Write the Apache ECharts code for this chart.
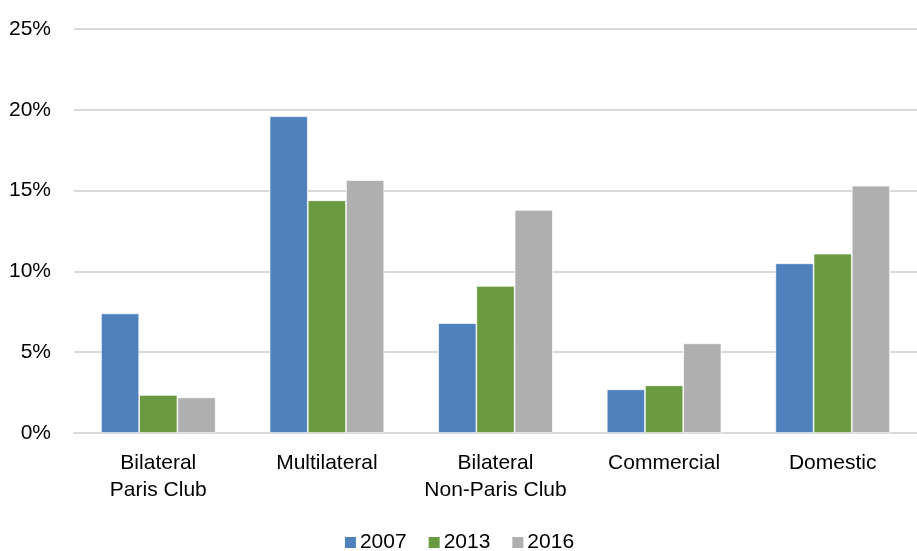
<!DOCTYPE html>
<html>
<head>
<meta charset="utf-8">
<script src="https://cdn.jsdelivr.net/npm/echarts@6/dist/echarts.min.js"></script>
<style>
html,body{margin:0;padding:0;background:#fff;}
#chart{width:917px;height:551px;}
</style>
</head>
<body>
<div id="chart"></div>
<script>
const categories = ['Bilateral\nParis Club', 'Multilateral', 'Bilateral\nNon-Paris Club', 'Commercial', 'Domestic'];
const years = ['2007', '2013', '2016'];
const values2007 = [7.4, 19.6, 6.8, 2.7, 10.5];
const values2013 = [2.35, 14.4, 9.1, 2.95, 11.1];
const values2016 = [2.2, 15.65, 13.8, 5.55, 15.3];
const yTicks = [0, 5, 10, 15, 20, 25];
const colors = ['#4F81BD', '#6A9A40', '#AFAFAF'];

const FONT = '"Liberation Sans Narrow", "Arial Narrow", "Liberation Sans", Arial, sans-serif';
const chart = echarts.init(document.getElementById('chart'));
const seriesData = [values2007, values2013, values2016];
chart.setOption({
  animation: false,
  color: colors,
  grid: {left: 74, right: 0, top: 29, bottom: 118, containLabel: false},
  legend: {
    data: years,
    top: 527,
    left: 'center',
    itemWidth: 13,
    itemHeight: 13,
    itemGap: 20,
    icon: 'rect',
    textStyle: {fontFamily: FONT, fontSize: 21, color: '#000', padding: [0, 0, 0, -2]}
  },
  xAxis: {
    type: 'category',
    data: categories,
    axisLine: {show: true, lineStyle: {color: '#d9d9d9', width: 2}},
    axisTick: {show: false},
    axisLabel: {fontFamily: FONT, fontSize: 21, color: '#000', lineHeight: 27, margin: 17, interval: 0}
  },
  yAxis: {
    type: 'value',
    min: yTicks[0],
    max: yTicks[yTicks.length - 1],
    interval: 5,
    axisLine: {show: false},
    axisTick: {show: false},
    splitLine: {lineStyle: {color: '#d9d9d9', width: 2}},
    axisLabel: {fontFamily: FONT, fontSize: 21, color: '#000', margin: 23, formatter: v => v + '%'}
  },
  series: years.map((y, i) => ({
    name: y,
    type: 'bar',
    data: seriesData[i],
    barGap: '0%',
    barCategoryGap: '32%',
    itemStyle: {borderColor: '#ffffff', borderWidth: 0.7}
  }))
});
</script>
</body>
</html>
